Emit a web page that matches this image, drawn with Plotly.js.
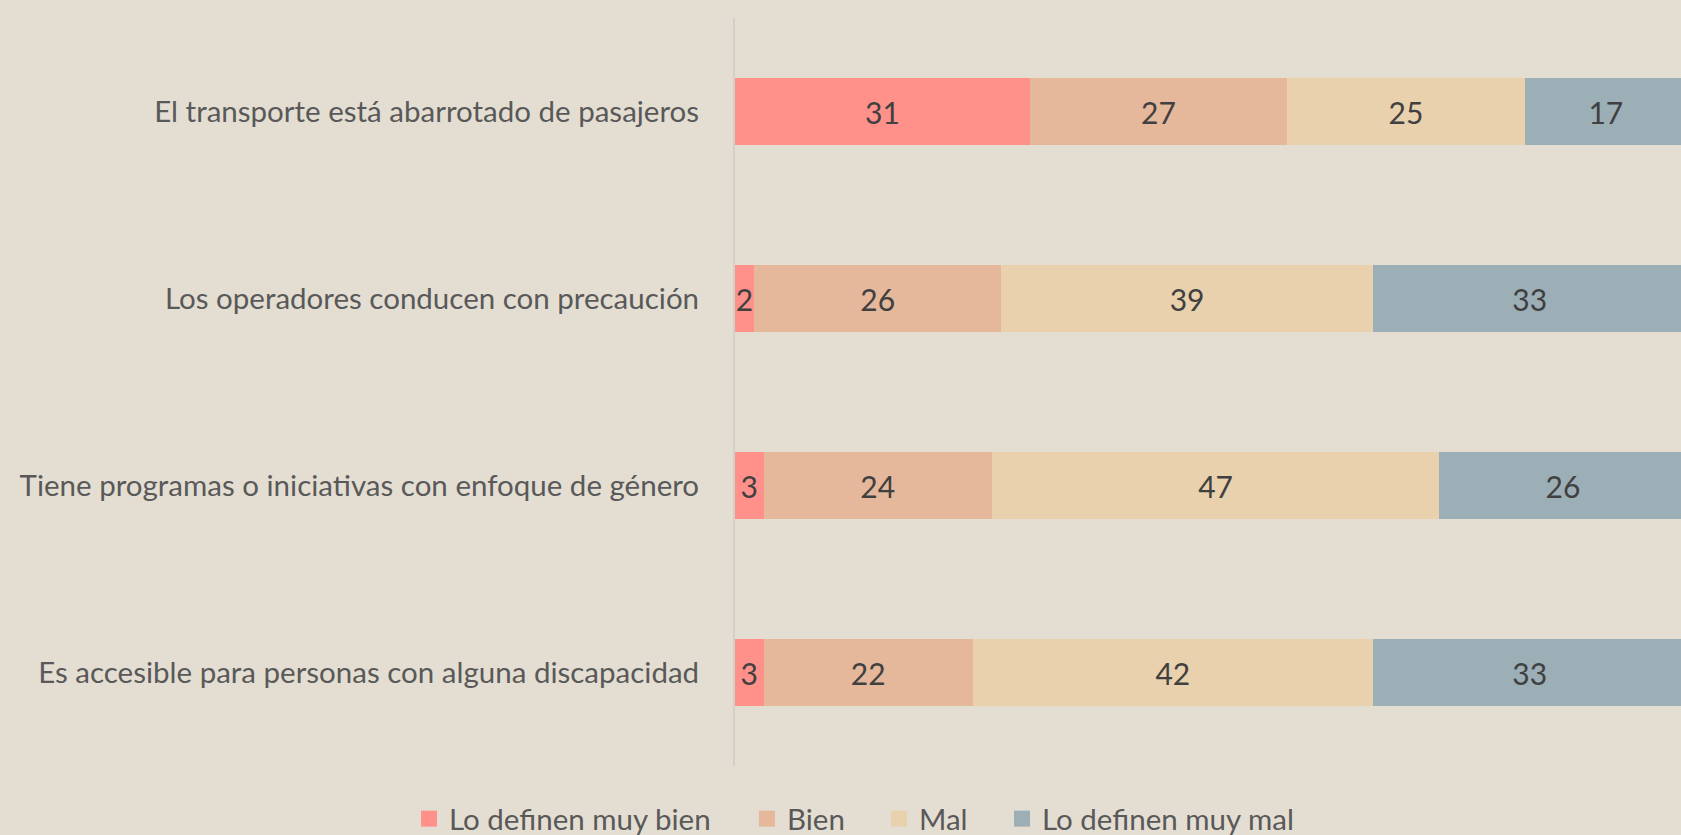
<!DOCTYPE html>
<html>
<head>
<meta charset="utf-8">
<script src="https://cdn.plot.ly/plotly-3.0.1.min.js"></script>
<style>
html,body{margin:0;padding:0;background:#E4DED2;}
#chart{width:1681px;height:835px;}
</style>
</head>
<body>
<div id="chart"></div>
<script>
const categories = [
  "El transporte está abarrotado de pasajeros",
  "Los operadores conducen con precaución",
  "Tiene programas o iniciativas con enfoque de género",
  "Es accesible para personas con alguna discapacidad"
];
const seriesNames = ["Lo definen muy bien", "Bien", "Mal", "Lo definen muy mal"];
const muyBien = [31, 2, 3, 3];
const bien = [27, 26, 24, 22];
const mal = [25, 39, 47, 42];
const muyMal = [17, 33, 26, 33];
const colors = ["#FF918A", "#E5B79B", "#EAD1AD", "#9CAEB6"];

const allSeries = [muyBien, bien, mal, muyMal];
const traces = allSeries.map((vals, i) => ({
  type: "bar",
  orientation: "h",
  name: seriesNames[i],
  y: categories,
  x: vals,
  text: vals.map(String),
  textposition: "inside",
  insidetextanchor: "middle",
  constraintext: "none",
  textfont: {family: "Lato, sans-serif", size: 30, color: "#404040"},
  marker: {color: colors[i], line: {width: 0}},
  showlegend: false,
  hoverinfo: "none"
}));

// legend entries, one legend each so they can be spaced like the reference
const legendIds = ["legend", "legend2", "legend3", "legend4"];
const legendSwatchCenters = [430, 768, 900, 1023];
const legendTraces = seriesNames.map((nm, i) => ({
  type: "scatter",
  mode: "markers",
  name: nm,
  x: [null],
  y: [null],
  legend: legendIds[i],
  marker: {symbol: "square", size: 18, color: colors[i], line: {width: 0}},
  showlegend: true,
  hoverinfo: "none"
}));

const layout = {
  width: 1681,
  height: 835,
  barmode: "stack",
  bargap: 0.642,
  paper_bgcolor: "#E4DED2",
  plot_bgcolor: "#E4DED2",
  margin: {l: 735, r: 0, t: 18, b: 69, pad: 0},
  font: {family: "Lato, sans-serif", color: "#595959"},
  xaxis: {
    range: [0, 99.4],
    showgrid: false,
    zeroline: false,
    showticklabels: false,
    showline: false,
    fixedrange: true
  },
  yaxis: {
    type: "category",
    categoryorder: "array",
    categoryarray: categories,
    autorange: "reversed",
    showgrid: false,
    zeroline: false,
    showline: true,
    linecolor: "#D3D0C8",
    linewidth: 2,
    ticks: "",
    ticklabelstandoff: 28,
    tickfont: {family: "Lato, sans-serif", size: 29.5, color: "#595959"}
  },
  showlegend: true
};

legendIds.forEach((id, i) => {
  layout[id] = {
    orientation: "h",
    xref: "container",
    yref: "container",
    x: (legendSwatchCenters[i] - 21) / 1681,
    xanchor: "left",
    y: 1 - 819 / 835,
    yanchor: "middle",
    itemsizing: "trace",
    itemwidth: 30,
    font: {family: "Lato, sans-serif", size: 29.5, color: "#595959"},
    bgcolor: "rgba(0,0,0,0)",
    borderwidth: 0
  };
});

Plotly.newPlot("chart", traces.concat(legendTraces), layout, {displayModeBar: false, staticPlot: true});
</script>
</body>
</html>
